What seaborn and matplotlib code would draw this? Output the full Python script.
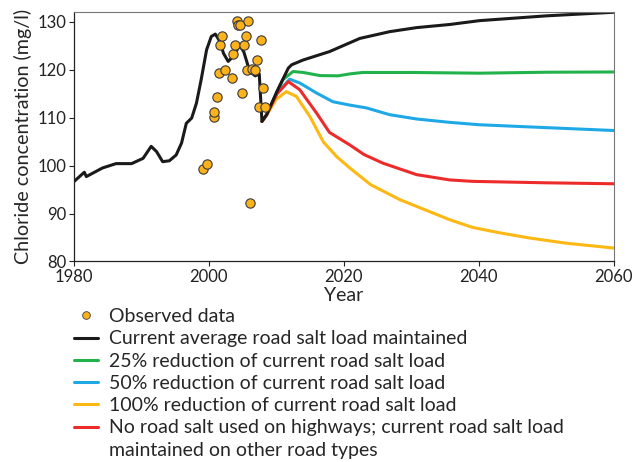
import numpy as np
import pandas as pd
import matplotlib
matplotlib.use("Agg")
import matplotlib.pyplot as plt
import seaborn as sns
from matplotlib.lines import Line2D

# observed chloride samples
obs_year = [1999.2, 1999.7, 2000.8, 2000.8, 2001.2, 2001.5, 2001.7, 2002.0, 2002.5, 2003.4,
            2003.6, 2003.9, 2004.2, 2004.4, 2004.7, 2004.9, 2005.2, 2005.5, 2005.7, 2005.9,
            2006.2, 2006.5, 2006.8, 2007.2, 2007.4, 2007.7, 2008.0, 2008.4]
obs_conc = [99.2, 100.3, 110.2, 111.2, 114.2, 119.2, 125.2, 127.1, 120.0, 118.2,
            123.2, 125.2, 130.1, 129.2, 129.2, 115.2, 125.2, 127.1, 120.0, 130.1,
            92.2, 120.2, 120.0, 122.0, 112.2, 126.1, 116.2, 112.2]

# current load maintained (historic + projection)
cur_year = [1980.1, 1981.6, 1981.9, 1984.3, 1986.3, 1988.6, 1990.3, 1991.5, 1992.3, 1993.2,
            1994.2, 1995.2, 1996.0, 1996.7, 1997.5, 1998.2, 1998.9, 1999.7, 2000.4, 2001.0,
            2001.7, 2002.2, 2002.9, 2003.6, 2004.6, 2005.2, 2006.1, 2006.9, 2007.5, 2007.9,
            2008.6, 2010.1, 2011.8, 2012.3, 2014.0, 2017.9, 2022.4, 2026.8, 2030.8, 2035.7,
            2040.1, 2050.0, 2060.0]
cur_conc = [96.7, 98.6, 97.7, 99.5, 100.4, 100.4, 101.5, 104.0, 102.9, 100.8,
            101.0, 102.2, 104.7, 108.8, 109.9, 113.0, 117.9, 124.1, 126.9, 127.4,
            125.8, 123.4, 121.7, 122.7, 125.0, 123.75, 119.6, 118.7, 119.1, 109.2,
            110.6, 115.4, 120.3, 121.0, 122.0, 123.75, 126.5, 127.9, 128.75, 129.4,
            130.2, 131.2, 131.95]

# scenario projections from 2008
red25_year = [2007.9, 2008.6, 2010.1, 2011.0, 2012.5, 2014.0, 2016.5, 2019.2, 2020.9, 2022.8,
              2030.0, 2040.1, 2050.0, 2060.0]
red25_conc = [109.2, 110.6, 115.2, 117.9, 119.6, 119.4, 118.75, 118.7, 119.1, 119.4,
              119.4, 119.25, 119.45, 119.5]

red50_year = [2007.9, 2008.6, 2010.1, 2012.0, 2013.5, 2016.0, 2018.4, 2020.9, 2023.4, 2026.8,
              2030.8, 2035.7, 2040.1, 2050.0, 2060.0]
red50_conc = [109.2, 110.6, 115.0, 118.0, 117.2, 115.1, 113.3, 112.6, 112.0, 110.6,
              109.7, 109.0, 108.5, 107.9, 107.3]

red100_year = [2007.9, 2008.6, 2010.0, 2011.5, 2013.0, 2015.0, 2017.0, 2019.0, 2020.9, 2024.0,
               2028.3, 2032.7, 2035.7, 2039.1, 2043.0, 2047.5, 2053.0, 2060.0]
red100_conc = [109.2, 110.5, 113.8, 115.4, 114.4, 110.2, 104.9, 101.8, 99.5, 96.0,
               92.9, 90.4, 88.7, 87.1, 86.0, 84.9, 83.8, 82.8]

nohwy_year = [2007.9, 2008.6, 2010.1, 2011.8, 2013.5, 2016.0, 2017.9, 2020.9, 2023.0, 2025.8,
              2030.8, 2035.7, 2039.1, 2050.0, 2060.0]
nohwy_conc = [109.2, 110.6, 114.9, 117.5, 115.8, 110.9, 106.9, 104.3, 102.3, 100.5,
              98.1, 97.0, 96.7, 96.4, 96.2]

scenarios = [
    (red25_year, red25_conc, "#21b24b", "25% reduction of current road salt load"),
    (red50_year, red50_conc, "#1ea9e6", "50% reduction of current road salt load"),
    (red100_year, red100_conc, "#fdb813", "100% reduction of current road salt load"),
    (nohwy_year, nohwy_conc, "#ee2b2b",
     "No road salt used on highways; current road salt load"),
]
nohwy_label_2 = "maintained on other road types"

sns.set_style("ticks")
plt.rcParams['font.family'] = ['Lato', 'DejaVu Sans']

fig = plt.figure(figsize=(6.32, 4.62), dpi=100)
ax = fig.add_axes([0.1163, 0.434, 0.855, 0.540])

for yr, conc, col, lab in scenarios:
    sns.lineplot(x=yr, y=conc, color=col, lw=2.2, estimator=None, ax=ax)
sns.lineplot(x=cur_year, y=cur_conc, color="#1a1a1a", lw=2.2, estimator=None, ax=ax)
sns.scatterplot(x=obs_year, y=obs_conc, color="#fbb21b", edgecolor="#3a3a3a",
                linewidth=0.8, s=45, zorder=5, ax=ax)

ax.set_xlim(1980, 2060)
ax.set_ylim(80, 132)
ax.set_xticks([1980, 2000, 2020, 2040, 2060])
ax.set_yticks([80, 90, 100, 110, 120, 130])
ax.tick_params(labelsize=12, length=3.6, width=0.8, colors="#222222", pad=1.5)
ax.set_xlabel("Year", fontsize=14, labelpad=2)
ax.set_ylabel("Chloride concentration (mg/l)", fontsize=14.2, labelpad=4)
for side in ["left", "bottom"]:
    ax.spines[side].set_color("#222222")
    ax.spines[side].set_linewidth(0.9)
for side in ["top", "right"]:
    ax.spines[side].set_visible(True)
    ax.spines[side].set_color("#777777")
    ax.spines[side].set_linewidth(0.8)

handles = [Line2D([], [], ls="none", marker="o", markersize=5.5, markerfacecolor="#fbb21b",
                  markeredgecolor="#3a3a3a", markeredgewidth=0.6),
           Line2D([], [], color="#1a1a1a", lw=2.2)]
labels = ["Observed data", "Current average road salt load maintained"]
for yr, conc, col, lab in scenarios:
    handles.append(Line2D([], [], color=col, lw=2.2))
    labels.append(lab)
# second line of the last entry, no handle
handles.append(Line2D([], [], color="none", lw=0))
labels.append(nohwy_label_2)

fig.legend(handles, labels, loc="upper left", bbox_to_anchor=(0.117, 0.333),
           frameon=False, fontsize=14, handlelength=1.24, handletextpad=0.57,
           labelspacing=0.27, borderaxespad=0, borderpad=0)

fig.savefig("out.png", dpi=100)
